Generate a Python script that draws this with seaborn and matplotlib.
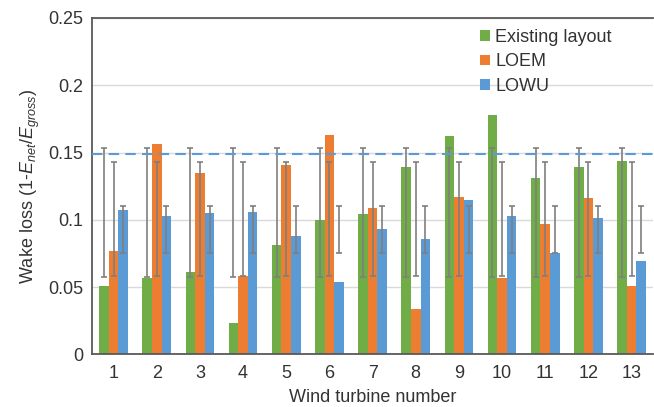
import numpy as np
import pandas as pd
import matplotlib
matplotlib.use("Agg")
import matplotlib.pyplot as plt
import seaborn as sns

# Wake loss per turbine
turbines = [str(i) for i in range(1, 14)]
existing = [0.051, 0.057, 0.061, 0.023, 0.081, 0.100, 0.104, 0.139, 0.162, 0.178, 0.131, 0.139, 0.144]
loem = [0.077, 0.156, 0.135, 0.058, 0.141, 0.163, 0.109, 0.034, 0.117, 0.057, 0.097, 0.116, 0.051]
lowu = [0.107, 0.103, 0.105, 0.106, 0.088, 0.054, 0.093, 0.086, 0.115, 0.103, 0.075, 0.101, 0.069]
series_names = ["Existing layout", "LOEM", "LOWU"]
colors = ["#70AD47", "#ED7D31", "#5B9BD5"]
threshold = 0.149
yticks = [0, 0.05, 0.1, 0.15, 0.2, 0.25]
ytick_labels = ["0", "0.05", "0.1", "0.15", "0.2", "0.25"]

series_values = [existing, loem, lowu]
df = pd.DataFrame({
    "turbine": turbines * 3,
    "layout": [name for name in series_names for _ in turbines],
    "loss": existing + loem + lowu,
})

sns.set_style("white")
plt.rcParams["font.family"] = ["Liberation Sans", "DejaVu Sans"]
plt.rcParams["mathtext.fontset"] = "custom"
plt.rcParams["mathtext.rm"] = "Liberation Sans"
plt.rcParams["mathtext.it"] = "Liberation Sans:italic"
text_color = "#333333"
fs = 13

fig = plt.figure(figsize=(6.54, 4.07), dpi=100)
ax = fig.add_axes([0.1407, 0.1295, 0.858, 0.8263])

sns.barplot(data=df, x="turbine", y="loss", hue="layout", hue_order=series_names,
            palette=colors, errorbar=None, width=0.667, gap=0, saturation=1,
            linewidth=0, ax=ax, zorder=2)

# error bars: mean +/- std of each series, drawn at every bar
for container, vals in zip(ax.containers, series_values):
    centers = [p.get_x() + p.get_width() / 2 for p in container.patches]
    mean = np.mean(vals)
    std = np.std(vals, ddof=1)
    ax.errorbar(centers, [mean] * len(centers), yerr=std, fmt="none",
                ecolor="#7F7F7F", elinewidth=1.2, capsize=2, capthick=1.2, zorder=3)

ax.axhline(threshold, color="#5B9BD5", linestyle=(0, (5, 3)), linewidth=1.5, zorder=4)

ax.set_ylim(0, 0.25)
ax.set_xlim(-0.5, 12.5)
ax.set_yticks(yticks)
ax.set_yticklabels(ytick_labels)
ax.yaxis.grid(True, color="#D9D9D9", linewidth=1)
ax.set_axisbelow(True)
ax.tick_params(axis="y", direction="in", length=4, color="#595959", labelsize=fs,
               labelcolor=text_color, pad=6)
ax.tick_params(axis="x", length=0, labelsize=fs, labelcolor=text_color, pad=8)

for side in ["left", "top", "bottom"]:
    ax.spines[side].set_color("#595959")
    ax.spines[side].set_linewidth(1.3)
ax.spines["right"].set_visible(False)

ax.set_xlabel("Wind turbine number", fontsize=fs, color=text_color, labelpad=5)
ax.set_ylabel(r"Wake loss (1-$E_{net}$/$E_{gross}$)", fontsize=fs, color=text_color, labelpad=5)

ax.legend(loc="upper left", bbox_to_anchor=(0.662, 1.015), frameon=False, fontsize=fs,
          handlelength=0.55, handleheight=0.55, handletextpad=0.3, labelspacing=0.4,
          labelcolor=text_color)

fig.savefig("out.png", dpi=100)
